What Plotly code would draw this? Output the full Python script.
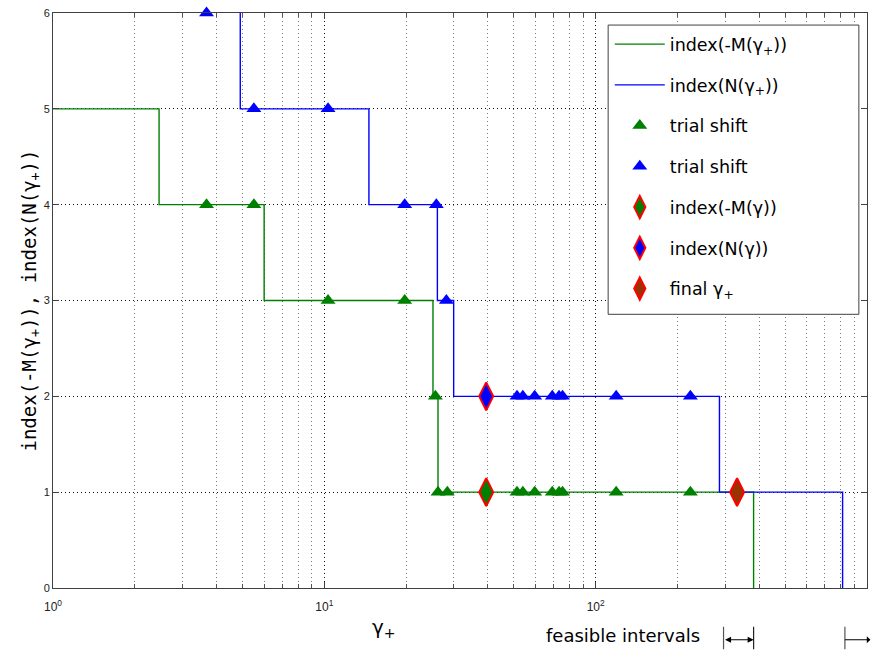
import numpy as np
import plotly.graph_objects as go

# ---- data ----
# step function index(-M(gamma_+)) : breakpoints and levels
m_step_x = [1.0, 2.46, 6.0, 25.14, 26.24, 382.0]
m_step_y = [5, 4, 3, 2, 1, 0]
# step function index(N(gamma_+))
n_step_x = [4.9, 4.9, 14.6, 26.1, 29.97, 285.9, 813.0]
n_step_y = [7, 5, 4, 3, 2, 1, 0]

# trial shifts (green: -M, blue: N)
trial_m_x = [3.68, 5.50, 10.32, 19.78, 25.66, 26.24, 28.4, 51.3, 53.9, 59.6, 69.2, 73.3, 75.5, 119.0, 223.4]
trial_m_y = [4, 4, 3, 3, 2, 1, 1, 1, 1, 1, 1, 1, 1, 1, 1]
trial_n_x = [3.68, 5.50, 10.32, 19.78, 25.87, 28.17, 51.3, 53.9, 59.6, 69.2, 73.3, 75.5, 119.0, 223.4]
trial_n_y = [6, 5, 5, 4, 4, 3, 2, 2, 2, 2, 2, 2, 2, 2]

gamma_x = [39.5]
gamma_m_y = [1]
gamma_n_y = [2]
final_x = [332.0]
final_y = [1]

feasible_intervals = [(296.0, 382.0), (829.0, None)]

xtick_vals = [1, 10, 100, 1000]
xtick_text = ["10<sup>0</sup>", "10<sup>1</sup>", "10<sup>2</sup>", "10<sup>3</sup>"]
ytick_vals = [0, 1, 2, 3, 4, 5, 6]

GREEN = "#008000"
BLUE = "#0000FF"
BROWN = "#993300"
DOTS = "1px,3px"

fig = go.Figure()
fig.add_trace(go.Scatter(x=m_step_x, y=m_step_y, mode="lines", line=dict(color=GREEN, width=1.4, shape="hv"),
                         name="index(-M(γ<sub>+</sub>))", legendgroup="a"))
fig.add_trace(go.Scatter(x=n_step_x, y=n_step_y, mode="lines", line=dict(color=BLUE, width=1.4, shape="hv"),
                         name="index(N(γ<sub>+</sub>))", legendgroup="b"))
fig.add_trace(go.Scatter(x=trial_m_x, y=trial_m_y, mode="markers", cliponaxis=False,
                         marker=dict(symbol="triangle-up", size=13, color=GREEN, line=dict(width=0)),
                         name="trial shift", legendgroup="c"))
fig.add_trace(go.Scatter(x=trial_n_x, y=trial_n_y, mode="markers", cliponaxis=False,
                         marker=dict(symbol="triangle-up", size=13, color=BLUE, line=dict(width=0)),
                         name="trial shift", legendgroup="d"))
fig.add_trace(go.Scatter(x=gamma_x, y=gamma_m_y, mode="markers", cliponaxis=False,
                         marker=dict(symbol="diamond-tall", size=20, color=GREEN, line=dict(width=2, color="#FF0000")),
                         name="index(-M(γ))", legendgroup="e"))
fig.add_trace(go.Scatter(x=gamma_x, y=gamma_n_y, mode="markers", cliponaxis=False,
                         marker=dict(symbol="diamond-tall", size=20, color=BLUE, line=dict(width=2, color="#FF0000")),
                         name="index(N(γ))", legendgroup="f"))
fig.add_trace(go.Scatter(x=final_x, y=final_y, mode="markers", cliponaxis=False,
                         marker=dict(symbol="diamond-tall", size=20, color=BROWN, line=dict(width=2, color="#FF0000")),
                         name="final γ<sub>+</sub>", legendgroup="g"))

minor_vals = [m * 10 ** d for d in range(0, 3) for m in range(2, 10)]

fig.update_xaxes(type="log", range=[0, 3], tickvals=xtick_vals, ticktext=xtick_text,
                 ticks="inside", ticklen=6, tickcolor="#404040", ticklabelstandoff=8,
                 showline=True, linecolor="#404040", linewidth=1, mirror="ticks",
                 showgrid=True, gridcolor="#111111", griddash=DOTS, gridwidth=1,
                 tickfont=dict(family="Liberation Sans", size=12, color="#222"),
                 minor=dict(tickvals=minor_vals, ticks="inside", ticklen=4, tickcolor="#555",
                            showgrid=True, gridcolor="#777777", griddash=DOTS, gridwidth=1),
                 zeroline=False)
fig.update_yaxes(range=[0, 6], tickvals=ytick_vals, ticks="inside", ticklen=6, tickcolor="#404040",
                 showline=True, linecolor="#404040", linewidth=1, mirror="ticks",
                 showgrid=True, gridcolor="#111111", griddash=DOTS, gridwidth=1,
                 tickfont=dict(family="Liberation Sans", size=11, color="#222"),
                 title=dict(text="index(-M(γ<sub>+</sub>)), index(N(γ<sub>+</sub>))",
                            font=dict(family="DejaVu Sans Mono", size=19, color="#000"), standoff=2),
                 zeroline=False)

annotations = [
    dict(text="γ<sub>+</sub>", xref="paper", yref="paper", x=0.407, y=-0.069, xanchor="center",
         yanchor="middle", showarrow=False, font=dict(family="DejaVu Sans", size=20, color="#000")),
    dict(text="feasible intervals", xref="paper", yref="paper", x=0.70, y=-0.083, xanchor="center",
         yanchor="middle", showarrow=False, font=dict(family="DejaVu Sans", size=18, color="#000")),
]
ybar = -0.0675
yarr = -0.09
for lo, hi in feasible_intervals:
    annotations.append(dict(text="", xref="x", yref="paper", x=np.log10(lo), y=ybar, ax=0, ay=24,
                            showarrow=True, arrowhead=0, arrowwidth=1.2, arrowcolor="#555"))
    if hi is not None:
        annotations.append(dict(text="", xref="x", yref="paper", x=np.log10(hi), y=ybar, ax=0, ay=24,
                                showarrow=True, arrowhead=0, arrowwidth=1.2, arrowcolor="#222"))
        annotations.append(dict(text="", xref="x", yref="paper", x=np.log10(hi), y=yarr,
                                ax=np.log10(lo), axref="x", ay=0, showarrow=True, arrowhead=2,
                                arrowside="end+start", arrowsize=1, arrowwidth=1.2, arrowcolor="#000"))
    else:
        annotations.append(dict(text="", xref="x", yref="paper", x=np.log10(lo), y=yarr,
                                ax=27, ay=0, showarrow=True, arrowhead=2,
                                arrowside="start", arrowsize=1, arrowwidth=1.2, arrowcolor="#000"))

# legend frame (wider than the auto-sized legend, as in the reference)
fig.add_shape(type="rect", xref="paper", yref="paper", x0=0.682, x1=0.990, y0=0.476, y1=0.979,
              line=dict(color="#404040", width=1), fillcolor="white", layer="above")

fig.update_layout(
    width=875, height=668,
    margin=dict(l=53, r=7, t=10, b=80),
    plot_bgcolor="white", paper_bgcolor="white",
    showlegend=True,
    legend=dict(x=0.684, y=0.977, xanchor="left", yanchor="top",
                bgcolor="rgba(0,0,0,0)", borderwidth=0,
                font=dict(family="DejaVu Sans", size=17.5, color="#000"),
                traceorder="grouped", tracegroupgap=15, itemwidth=50),
    annotations=annotations,
)

fig.write_html("out.html")
